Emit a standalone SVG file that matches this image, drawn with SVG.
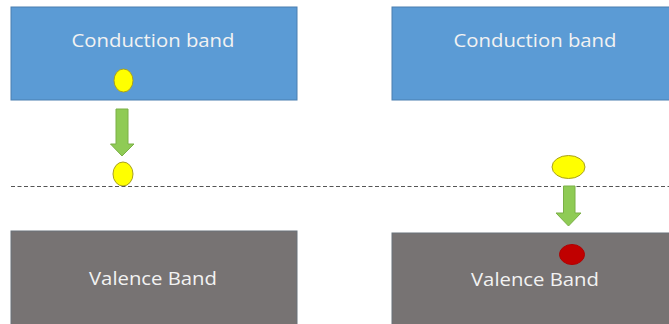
<svg xmlns="http://www.w3.org/2000/svg" width="669" height="324" viewBox="0 0 669 324">
<style>
.cb{fill:#5B9BD5;stroke:#4A7EB0;stroke-width:1}
.vb{fill:#777373;stroke:#6A737B;stroke-width:1}
.lbl{font-family:"Open Sans","Liberation Sans",sans-serif;font-size:19px;fill:#F2F2F2;text-anchor:middle}
.el{fill:#FFFF00;stroke:#A8A020;stroke-width:1}
.hole{fill:#C00000;stroke:#B00000;stroke-width:1}
.arr{fill:#8FCB55;stroke:#7BB046;stroke-width:1}
</style>
<rect width="669" height="324" fill="#FFFFFF"/>
<g id="conduction-left">
<rect class="cb" x="11" y="7" width="286" height="93"/>
<text class="lbl" x="153" y="47" textLength="163" lengthAdjust="spacingAndGlyphs">Conduction band</text>
</g>
<g id="conduction-right">
<rect class="cb" x="392" y="7" width="280" height="93"/>
<text class="lbl" x="535" y="47" textLength="163" lengthAdjust="spacingAndGlyphs">Conduction band</text>
</g>
<g id="valence-left">
<rect class="vb" x="11" y="231" width="286" height="96"/>
<text class="lbl" x="153" y="285" textLength="128" lengthAdjust="spacingAndGlyphs">Valence Band</text>
</g>
<g id="valence-right">
<rect class="vb" x="392" y="233" width="280" height="94"/>
<text class="lbl" x="535" y="286" textLength="128" lengthAdjust="spacingAndGlyphs">Valence Band</text>
</g>
<g id="electron-left-top"><ellipse class="el" cx="123.5" cy="80.5" rx="9.5" ry="11.5"/></g>
<g id="electron-left-bottom"><ellipse class="el" cx="123" cy="174" rx="10" ry="12"/></g>
<g id="electron-right"><ellipse class="el" cx="568.5" cy="167" rx="16.5" ry="11.5"/></g>
<g id="hole-right"><ellipse class="hole" cx="572" cy="254.5" rx="12.5" ry="10"/></g>
<g id="connectors">
<line x1="11" y1="186.5" x2="669" y2="186.5" stroke="#555555" stroke-width="1" stroke-dasharray="4,2.5"/>
<polygon class="arr" points="116,109 128,109 128,144 134,144 122,156 110.5,144 116,144"/>
<polygon class="arr" points="563.5,186 575,186 575,213 581,213 568.5,226 556,213 563.5,213"/>
</g>
</svg>
